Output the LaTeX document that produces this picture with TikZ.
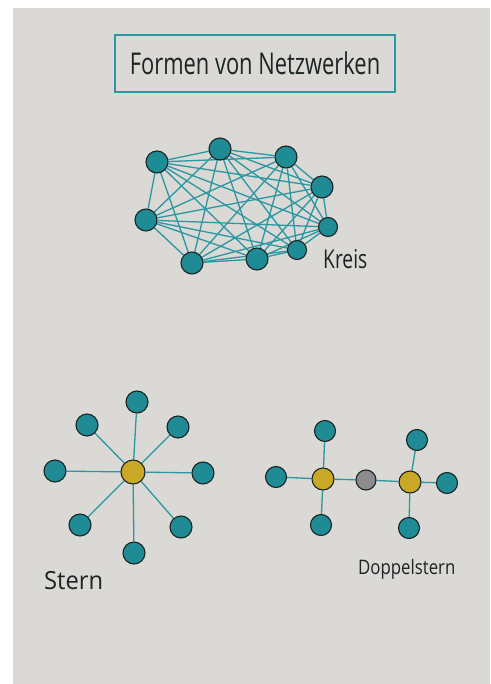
\documentclass[tikz,border=0pt]{standalone}
\usepackage{fontspec}
\setmainfont{Open Sans}
\usetikzlibrary{backgrounds}

\definecolor{paper}{HTML}{DBD9D5}
\definecolor{tealnode}{HTML}{1F8B95}
\definecolor{tealline}{HTML}{2A97A2}
\definecolor{hubyellow}{HTML}{C9A826}
\definecolor{hubgray}{HTML}{8C8C8E}
\definecolor{ink}{HTML}{1C2424}
\def\nodesize{22pt}
\newcommand{\handtext}[3]{\scalebox{#2}[1]{\fontsize{#1}{#1}\selectfont #3}}

\begin{document}
\begin{tikzpicture}[x=1pt,y=-1pt]
      \tikzstyle{netnode}=[circle, draw=ink, line width=1.1pt, fill=tealnode, minimum size=\nodesize, inner sep=0pt]
      \tikzstyle{small node}=[netnode, minimum size=19pt]
      \tikzstyle{hub node}=[netnode, fill=hubyellow, minimum size=24pt]
      \tikzstyle{relay node}=[netnode, fill=hubgray, minimum size=20pt]
      \tikzstyle{link}=[draw=tealline, line width=1.3pt]
      \tikzstyle{caption}=[text=ink, inner sep=0pt]

      \useasboundingbox (0,0) rectangle (490,684);

      % Draw the title
      \node[draw=tealline, line width=1.8pt, minimum width=280pt, minimum height=57pt, caption]
          (title) at (255,63.5) {\handtext{30}{0.73}{Formen von Netzwerken}};

      % Draw the Kreis nodes
      \node[netnode] (K-1) at (157,162) {};
      \node[netnode] (K-2) at (220,149) {};
      \node[netnode] (K-3) at (286,157) {};
      \node[netnode] (K-4) at (322,187) {};
      \node[small node] (K-5) at (328,227) {};
      \node[small node] (K-6) at (297,250) {};
      \node[netnode] (K-7) at (257,259) {};
      \node[netnode] (K-8) at (192,263) {};
      \node[netnode] (K-9) at (146,220) {};
      \node[caption, anchor=west] (kreis) at (323,259) {\handtext{26}{0.74}{Kreis}};

      % Draw the Stern nodes
      \node[hub node] (S-0) at (133,472) {};
      \node[netnode] (S-1) at (137,402) {};
      \node[netnode] (S-2) at (178,427) {};
      \node[netnode] (S-3) at (203,473) {};
      \node[netnode] (S-4) at (181,527) {};
      \node[netnode] (S-5) at (134,553) {};
      \node[netnode] (S-6) at (80,525) {};
      \node[netnode] (S-7) at (55,471) {};
      \node[netnode] (S-8) at (87,425) {};
      \node[caption, anchor=west] (stern) at (44,581) {\handtext{25}{0.95}{Stern}};

      % Draw the Doppelstern nodes
      \node[hub node, minimum size=22pt] (D-A) at (323,479) {};
      \node[hub node, minimum size=22pt] (D-B) at (410,482) {};
      \node[relay node] (D-M) at (366,480) {};
      \node[netnode, minimum size=21pt] (D-A1) at (325,431) {};
      \node[netnode, minimum size=21pt] (D-A2) at (276,477) {};
      \node[netnode, minimum size=21pt] (D-A3) at (321,525) {};
      \node[netnode, minimum size=21pt] (D-B1) at (417,440) {};
      \node[netnode, minimum size=21pt] (D-B2) at (447,483) {};
      \node[netnode, minimum size=21pt] (D-B3) at (409,528) {};
      \node[caption, anchor=west] (doppel) at (358,569) {\handtext{20}{0.84}{Doppelstern}};

      \begin{scope}[on background layer]
          % the sheet of paper
          \fill[paper] (13,8) rectangle (490,684);

          % Connect every Kreis node with every other one
          \foreach \a [evaluate=\a as \n using int(\a+1)] in {1,...,8}
              \foreach \b in {\n,...,9}
                  \path (K-\a) edge[link] (K-\b);

          % Connect the hub with every Stern node
          \foreach \dest in {1,...,8}
              \path (S-0) edge[link] (S-\dest);

          % Connect the two hubs of the Doppelstern
          \foreach \dest in {1,2,3}
              \path (D-A) edge[link] (D-A\dest);
          \foreach \dest in {1,2,3}
              \path (D-B) edge[link] (D-B\dest);
          \path (D-A) edge[link] (D-M)
                (D-M) edge[link] (D-B);
      \end{scope}
\end{tikzpicture}
\end{document}
